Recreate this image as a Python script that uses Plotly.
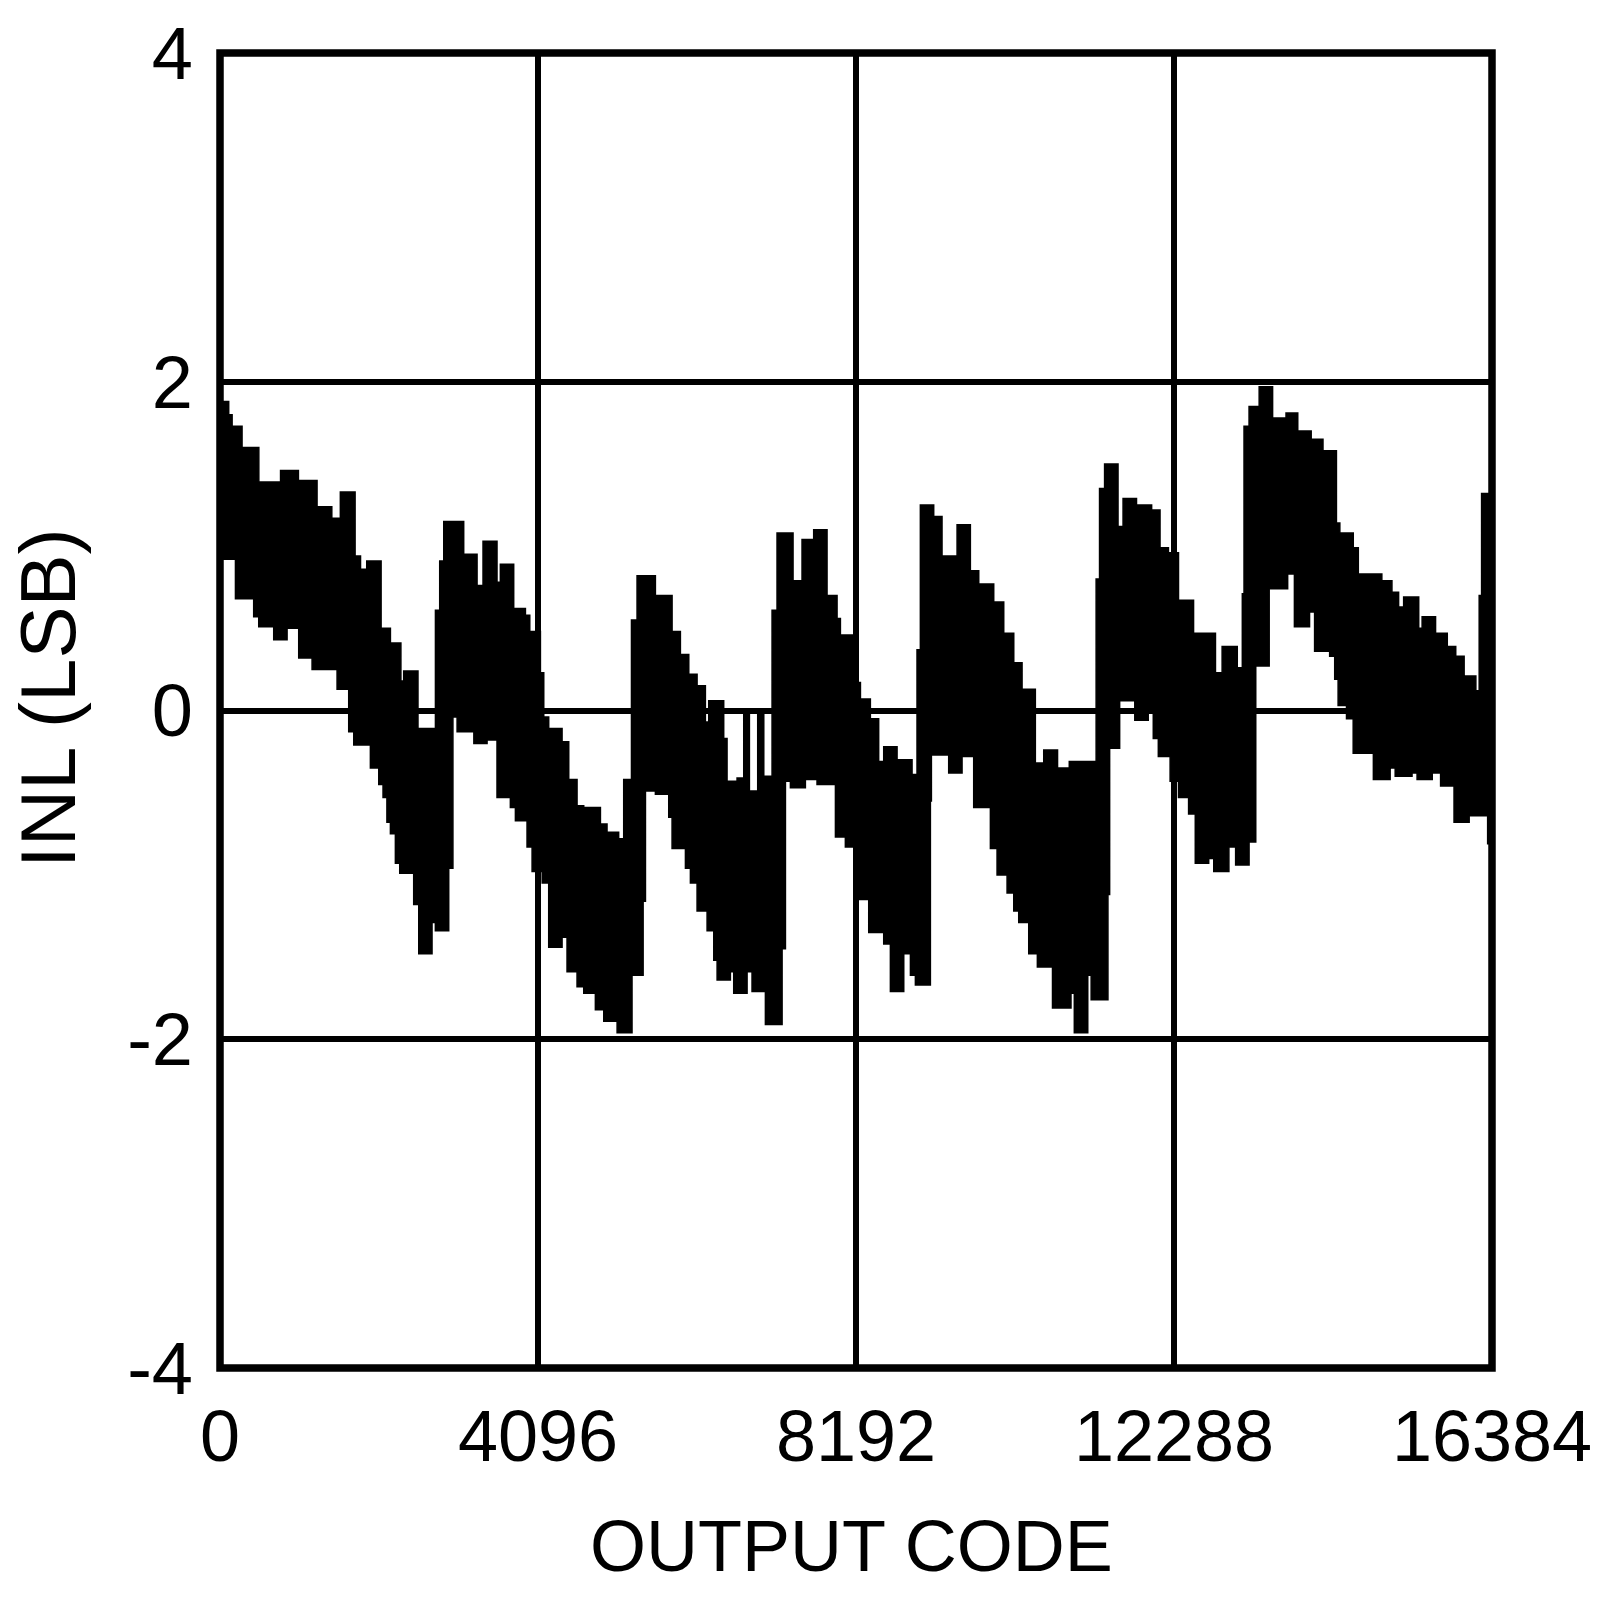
import plotly.graph_objects as go

# INL (LSB) vs output code: the dense measured trace is drawn as its band,
# given by upper and lower envelopes (segment start code, value).
upper_codes = [0, 112, 156, 284, 500, 780, 1010, 1250, 1440, 1550, 1740, 1810, 1890,
               2075, 2195, 2330, 2366, 2550, 2775, 2830, 2882, 3139, 3311, 3388, 3568,
               3611, 3783, 3934, 3990, 4127, 4170, 4234, 4406, 4492, 4599, 4685, 4900,
               4985, 5135, 5200, 5300, 5372, 5608, 5823, 5930, 6038, 6145, 6252, 6295,
               6488, 6531, 6660, 6746, 6819, 6926, 7004, 7111, 7175, 7381, 7497, 7647,
               7819, 7948, 7991, 8163, 8249, 8377, 8484, 8549, 8721, 8914, 8978, 9021,
               9193, 9300, 9494, 9665, 9773, 9966, 10095, 10224, 10331, 10502, 10610,
               10788, 10939, 11285, 11329, 11394, 11567, 11632, 11805, 12000, 12108,
               12216, 12346, 12540, 12822, 12908, 13103, 13168, 13190, 13255, 13385,
               13558, 13731, 13882, 14055, 14207, 14380, 14424, 14597, 14662, 14965,
               15095, 15181, 15246, 15440, 15484, 15657, 15808, 15917, 16025, 16176,
               16219, 16250]
upper_inl = [1.88, 1.80, 1.73, 1.60, 1.39, 1.46, 1.40, 1.24, 1.17, 1.33, 0.94, 0.86, 0.91,
             0.50, 0.41, 0.18, 0.24, -0.11, 0.61, 0.91, 1.15, 0.95, 0.76, 1.03, 0.78,
             0.89, 0.62, 0.58, 0.48, 0.23, -0.04, -0.11, -0.19, -0.42, -0.58, -0.59, -0.69,
             -0.74, -0.78, -0.42, 0.55, 0.82, 0.70, 0.48, 0.34, 0.22, 0.15, -0.07, 0.06,
             -0.17, -0.43, -0.41, -0.02, -0.49, -0.02, -0.40, 0.61, 1.08, 0.79, 1.04, 1.10,
             0.70, 0.56, 0.46, 0.17, 0.07, -0.05, -0.31, -0.22, -0.30, -0.39, 0.37, 1.25,
             1.18, 0.94, 1.13, 0.85, 0.77, 0.66, 0.47, 0.29, 0.13, -0.32, -0.24,
             -0.35, -0.31, 0.80, 1.35, 1.50, 1.12, 1.29, 1.25, 1.22, 0.99,
             0.96, 0.67, 0.47, 0.23, 0.39, 0.26, 0.71, 1.73, 1.85, 1.97,
             1.78, 1.81, 1.70, 1.65, 1.58, 1.14, 1.08, 0.99, 0.83, 0.79,
             0.72, 0.63, 0.69, 0.50, 0.57, 0.47, 0.39, 0.33, 0.21, 0.12,
             0.70, 1.32]

lower_codes = [0, 199, 434, 499, 692, 864, 1014, 1186, 1508, 1658, 1723, 1937, 2045, 2100,
               2150, 2195, 2259, 2315, 2495, 2560, 2731, 2774, 2946, 3000, 3054, 3270,
               3440, 3568, 3740, 3805, 3955, 4020, 4150, 4234, 4406, 4470, 4599, 4685,
               4835, 4943, 5115, 5307, 5450, 5480, 5608, 5780, 5823, 5995, 6059, 6145,
               6274, 6360, 6403, 6574, 6617, 6789, 6853, 7025, 7240, 7283, 7347, 7540,
               7690, 7927, 8055, 8163, 8356, 8549, 8635, 8807, 8893, 8957, 9150, 9163,
               9386, 9558, 9708, 9923, 10009, 10138, 10224, 10288, 10417, 10528, 10723,
               10961, 11004, 11177, 11221, 11437, 11459, 11588, 11783, 11956, 12021,
               12086, 12238, 12346, 12476, 12562, 12735, 12800, 12995, 13082, 13255,
               13341, 13514, 13752, 13839, 14034, 14099, 14293, 14358, 14402, 14510,
               14596, 14856, 15072, 15137, 15354, 15419, 15614, 15722, 15895, 16090,
               16155, 16328]
lower_inl = [0.92, 0.68, 0.57, 0.51, 0.43, 0.50, 0.32, 0.25, 0.13, -0.13, -0.21, -0.35, -0.45, -0.53,
             -0.68, -0.75, -0.93, -0.99, -1.18, -1.48, -1.29, -1.34, -0.96, -0.04, -0.13, -0.20,
             -0.18, -0.53, -0.59, -0.67, -0.83, -0.98, -1.05, -1.44, -1.38, -1.59, -1.68, -1.72,
             -1.82, -1.89, -1.96, -1.61, -1.16, -0.49, -0.51, -0.65, -0.84, -0.96, -1.05, -1.22,
             -1.34, -1.52, -1.64, -1.59, -1.72, -1.59, -1.71, -1.91, -1.45, -0.43, -0.47, -0.42,
             -0.45, -0.77, -0.83, -1.15, -1.35, -1.42, -1.71, -1.48, -1.61, -1.67, -0.55, -0.27,
             -0.38, -0.28, -0.59, -0.84, -1.00, -1.11, -1.22, -1.29, -1.48, -1.56, -1.81,
             -1.72, -1.96, -1.61, -1.76, -1.12, -0.23, 0.06, -0.06, 0.0, -0.17,
             -0.28, -0.43, -0.53, -0.63, -0.93, -0.90, -0.98, -0.83, -0.94, -0.80,
             0.27, 0.74, 0.83, 0.51, 0.60, 0.36, 0.33, 0.19, 0.03, -0.05,
             -0.26, -0.42, -0.35, -0.40, -0.38, -0.42, -0.38, -0.46, -0.68, -0.64,
             -0.64, -0.81]

code_end = 16384
x_ticks = [0, 4096, 8192, 12288, 16384]
x_tick_text = ["0", "4096", "8192", "12288", "16384"]
y_ticks = [-4, -2, 0, 2, 4]
y_tick_text = ["-4", "-2", "0", "2", "4"]
x_title = "OUTPUT CODE"
y_title = "INL (LSB)"


def steps(codes, vals, end):
    xs, ys = [], []
    for i, (c, v) in enumerate(zip(codes, vals)):
        nxt = codes[i + 1] if i + 1 < len(codes) else end
        xs += [c, nxt]
        ys += [v, v]
    return xs, ys


ux, uy = steps(upper_codes, upper_inl, code_end)
lx, ly = steps(lower_codes, lower_inl, code_end)
px = ux + lx[::-1]
py = uy + ly[::-1]

FONT = "Liberation Sans, Arial, sans-serif"

fig = go.Figure()
fig.add_trace(go.Scatter(x=px, y=py, mode="lines", fill="toself",
                         fillcolor="black", line=dict(color="black", width=1.5),
                         hoverinfo="skip", showlegend=False))

fig.update_layout(
    width=1600, height=1617,
    margin=dict(l=219.6, r=108.3, t=52.6, b=249, autoexpand=False),
    paper_bgcolor="white", plot_bgcolor="white",
    showlegend=False,
    font=dict(family=FONT, color="black", size=72),
)
fig.update_xaxes(range=[0, code_end], tickvals=x_ticks, ticktext=x_tick_text,
                 showgrid=True, gridcolor="black", gridwidth=5.5, zeroline=False,
                 showline=False, ticks="", tickfont=dict(size=72, family=FONT),
                 ticklabelstandoff=20, automargin=False)
fig.update_yaxes(range=[-4, 4], tickvals=y_ticks, ticktext=y_tick_text,
                 showgrid=True, gridcolor="black", gridwidth=5.5, zeroline=False,
                 showline=False, ticks="", tickfont=dict(size=74, family=FONT),
                 ticklabelstandoff=26, automargin=False)
fig.add_shape(type="rect", xref="paper", yref="paper", x0=0, x1=1, y0=0, y1=1,
              line=dict(color="black", width=7.5), layer="above")
fig.add_annotation(text=x_title, xref="paper", yref="paper", x=0.4965, y=-0.135,
                   xanchor="center", yanchor="middle", showarrow=False, borderpad=0,
                   font=dict(size=72, family=FONT, color="black"))
fig.add_annotation(text=y_title, xref="paper", yref="paper", x=-0.1352, y=0.5095,
                   xanchor="center", yanchor="middle", textangle=-90, showarrow=False,
                   borderpad=0, font=dict(size=78, family=FONT, color="black"))

# remove the default page margin so the figure sits at the window's top-left corner
fig.write_html("out.html", config={"displayModeBar": False},
               post_script="document.body.style.margin='0';")
